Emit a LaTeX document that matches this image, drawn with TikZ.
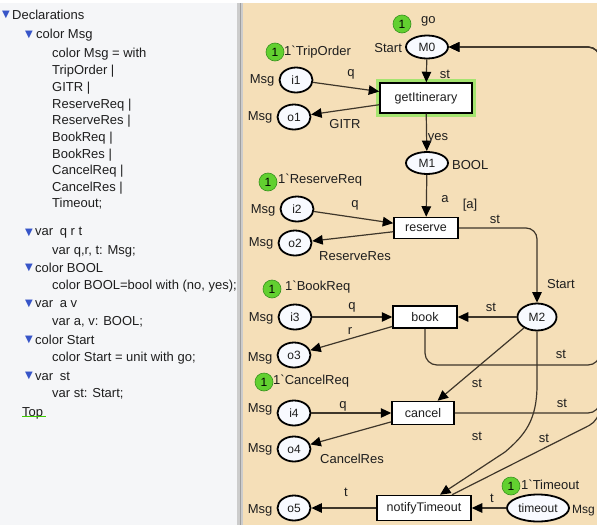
\documentclass[tikz,border=0pt]{standalone}
\usepackage{fontspec}
\setmainfont{Liberation Sans}[Ligatures=TeXOff]
\newfontfamily\symf{DejaVu Sans}
\usetikzlibrary{shapes.geometric,arrows.meta,calc}
\definecolor{beige}{RGB}{245,223,184}
\definecolor{panel}{RGB}{245,246,248}
\definecolor{arcc}{RGB}{62,54,42}
\definecolor{tokg}{RGB}{98,208,48}
\definecolor{tokd}{RGB}{55,145,30}
\definecolor{triblue}{RGB}{55,85,200}
\definecolor{txt}{RGB}{30,30,30}
\definecolor{glowc}{RGB}{165,228,112}
\definecolor{placefill}{RGB}{248,250,255}
\tikzset{
  place/.style={ellipse, draw=black, line width=1.8pt, fill=placefill, inner sep=0pt,
    minimum width=33pt, minimum height=25pt, text=txt, font=\fontsize{12}{13}\selectfont},
  trans/.style={rectangle, draw=black, line width=1.5pt, fill=white, inner sep=0pt,
    text=txt, font=\fontsize{12.5}{13}\selectfont},
  arc/.style={draw=arcc, line width=1.2pt, -{Triangle[length=10.5pt,width=9.5pt,color=black]}},
  lbl/.style={inner sep=0pt, text=txt, font=\fontsize{13}{14}\selectfont},
  token/.style={circle, fill=tokg, draw=tokd, line width=0.6pt, minimum size=18pt,
    inner sep=0pt, text=black, font=\fontsize{12}{13}\selectfont},
  decl/.style={anchor=west, inner sep=0pt, text=txt, font=\fontsize{13}{14}\selectfont},
  tri/.style={anchor=west, inner sep=0pt, text=triblue, font=\symf\fontsize{10}{11}\selectfont},
}
\begin{document}
\begin{tikzpicture}[x=1pt,y=-1pt]
\useasboundingbox (0,0) rectangle (597,525);
% backgrounds
\fill[panel] (0,0) rectangle (240,525);
\fill[beige] (243,0) rectangle (597,525);
\fill[white] (0,0) rectangle (597,3);
\fill[gray!40] (237,3) rectangle (243,525);
\draw[gray!75, line width=1.3pt] (240.5,3) -- (240.5,525);

% ---------- declarations panel ----------
\node[tri] (t0) at (2,15) {▼};
\node[decl] (d0) at (12,15) {Declarations};
\node[tri] (t1) at (25,35) {▼};
\node[decl] (d1) at (36,35) {color Msg};
\node[decl] (d2) at (52,54) {color Msg = with};
\node[decl] (d3) at (52,71) {TripOrder |};
\node[decl] (d4) at (52,88) {GITR |};
\node[decl] (d5) at (52,105) {ReserveReq |};
\node[decl] (d6) at (52,121) {ReserveRes |};
\node[decl] (d7) at (52,138) {BookReq |};
\node[decl] (d8) at (52,155) {BookRes |};
\node[decl] (d9) at (52,171) {CancelReq |};
\node[decl] (d10) at (52,188) {CancelRes |};
\node[decl] (d11) at (52,204) {Timeout;};
\node[tri] (t2) at (25,233) {▼};
\node[decl] (d12) at (35,233) {var\enspace q r t};
\node[decl] (d13) at (52,251) {var q,r, t: Msg;};
\node[tri] (t3) at (25,268) {▼};
\node[decl] (d14) at (35,268) {color BOOL};
\node[decl] (d15) at (52,286) {color BOOL=bool with (no, yes);};
\node[tri] (t4) at (25,304) {▼};
\node[decl] (d16) at (35,304) {var\enspace a v};
\node[decl] (d17) at (52,322) {var a, v: BOOL;};
\node[tri] (t5) at (25,340) {▼};
\node[decl] (d18) at (35,340) {color Start};
\node[decl] (d19) at (52,358) {color Start = unit with go;};
\node[tri] (t6) at (25,376) {▼};
\node[decl] (d20) at (35,376) {var\enspace st};
\node[decl] (d21) at (52,394) {var st: Start;};
\node[decl] (top) at (22,413) {Top};
\draw[green!60!lime!80!black, line width=1.4pt] (top.south west) ++(0,-2.5) -- ++(24,0);

% ---------- net: nodes ----------
\node[place, minimum width=42pt, minimum height=23pt] (M0) at (427,47) {M0};
\node[draw=glowc, line width=5pt, minimum width=95pt, minimum height=33pt, inner sep=0pt] (giglow) at (426,98) {};
\node[trans, minimum width=92pt, minimum height=30pt] (gi) at (426,98) {getItinerary};
\node[place] (i1) at (296,80) {i1};
\node[place] (o1) at (294,117) {o1};
\node[place, minimum width=42pt, minimum height=22pt] (M1) at (427,163) {M1};
\node[trans, minimum width=64pt, minimum height=21pt] (rs) at (426,228) {reserve};
\node[place] (i2) at (297,209) {i2};
\node[place] (o2) at (295,243) {o2};
\node[place, minimum width=39pt, minimum height=27pt] (M2) at (537,317) {M2};
\node[trans, minimum width=64pt, minimum height=22pt] (bk) at (425,317) {book};
\node[place] (i3) at (295,317) {i3};
\node[place] (o3) at (294,355) {o3};
\node[trans, minimum width=62pt, minimum height=23pt] (cn) at (423,413) {cancel};
\node[place] (i4) at (294,413) {i4};
\node[place] (o4) at (294,449) {o4};
\node[trans, minimum width=94pt, minimum height=25pt] (nt) at (424,508) {notifyTimeout};
\node[place] (o5) at (294,508) {o5};
\node[place, minimum width=62pt, minimum height=27pt] (to) at (538,508) {timeout};

% helper coordinates for the loop back to M0 (right edge)
\coordinate (rt) at (600,47);
\coordinate (ybk) at (0,365);
\coordinate (m2d) at (537,385);
\coordinate (m2c) at (505,452);
\coordinate (ntc) at (600,420);

% ---------- net: arcs ----------
\begin{scope}
\clip (243,3) rectangle (597,525);
\draw[arc] (M0) -- (gi);
\draw[arc] (i1) -- (gi);
\draw[arc] (gi) -- (o1);
\draw[arc] (gi) -- (M1);
\draw[arc] (M1) -- (rs);
\draw[arc] (i2) -- (rs);
\draw[arc] (rs) -- (o2);
\draw[arc, rounded corners=11pt] (rs.east) -| (M2.north);
\draw[arc] (M2) -- (bk);
\draw[arc] (i3) -- (bk);
\draw[arc] (bk) -- (o3);
\draw[arc, rounded corners=12pt] (bk.south) -- (bk.south |- ybk) -- (ybk -| rt) -- (rt) -- (M0.east);
\draw[arc] (M2) -- (cn);
\draw[arc] (i4) -- (cn);
\draw[arc] (cn) -- (o4);
\draw[arc, rounded corners=12pt] (cn.east) -- (cn.east -| rt) -- (rt) -- (M0.east);
\draw[arc] (M2.south) -- (m2d) .. controls (537,420) and (525,435) .. (m2c) -- ($(nt.north)+(16,0)$);
\draw[arc, rounded corners=12pt] ($(nt.north)+(28,0)$) -- (ntc) -- (rt) -- (M0.east);
\draw[arc] (to) -- (nt);
\draw[arc] (nt) -- (o5);
\end{scope}

% ---------- tokens ----------
\node[token] (k0) at (402,24) {1};
\node[lbl, anchor=west] (k0t) at (421,21) {go};
\node[token] (k1) at (275,52) {1};
\node[lbl, anchor=west] (k1t) at (284,52) {1`TripOrder};
\node[token] (k2) at (268,182) {1};
\node[lbl, anchor=west] (k2t) at (278,180) {1`ReserveReq};
\node[token] (k3) at (272,289) {1};
\node[lbl, anchor=west] (k3t) at (285,287) {1`BookReq};
\node[token] (k4) at (264,382) {1};
\node[lbl, anchor=west] (k4t) at (273,381) {1`CancelReq};
\node[token] (k5) at (511,486) {1};
\node[lbl, anchor=west] (k5t) at (521,485) {1`Timeout};

% ---------- colour sets ----------
\node[lbl, anchor=east] (csM0) at ($(M0.west)+(-3,1)$) {Start};
\node[lbl, anchor=west] (csM1) at ($(M1.east)+(3,2)$) {BOOL};
\node[lbl, anchor=west] (csM2) at (547,284) {Start};
\node[lbl, anchor=west, font=\fontsize{12}{13}\selectfont] (csto) at ($(to.east)+(2,3)$) {Msg};
\node[lbl, anchor=east] (csi1) at ($(i1.west)+(-4,0)$) {Msg};
\node[lbl, anchor=east] (cso1) at ($(o1.west)+(-4,0)$) {Msg};
\node[lbl, anchor=east] (csi2) at ($(i2.west)+(-4,1)$) {Msg};
\node[lbl, anchor=east] (cso2) at ($(o2.west)+(-4,0)$) {Msg};
\node[lbl, anchor=east] (csi3) at ($(i3.west)+(-4,1)$) {Msg};
\node[lbl, anchor=east] (cso3) at ($(o3.west)+(-4,3)$) {Msg};
\node[lbl, anchor=east] (csi4) at ($(i4.west)+(-4,-4)$) {Msg};
\node[lbl, anchor=east] (cso4) at ($(o4.west)+(-4,0)$) {Msg};
\node[lbl, anchor=east] (cso5) at ($(o5.west)+(-4,2)$) {Msg};

% ---------- arc inscriptions ----------
\node[lbl] (a1) at (351,74) {q};
\node[lbl] (a2) at (445,74) {st};
\node[lbl] (a3) at (345,124) {GITR};
\node[lbl] (a4) at (438,138) {yes};
\node[lbl] (a5) at (445,199) {a};
\node[lbl] (g1) at (470,205) {[a]};
\node[lbl] (a6) at (355,205) {q};
\node[lbl] (a7) at (495,219) {st};
\node[lbl] (a8) at (355,256) {ReserveRes};
\node[lbl] (a9) at (352,307) {q};
\node[lbl] (a10) at (491,307) {st};
\node[lbl] (a11) at (350,331) {r};
\node[lbl] (a12) at (561,354) {st};
\node[lbl] (a13) at (477,383) {st};
\node[lbl] (a14) at (343,406) {q};
\node[lbl] (a15) at (562,403) {st};
\node[lbl] (a16) at (477,436) {st};
\node[lbl] (a17) at (544,438) {st};
\node[lbl] (a18) at (352,459) {CancelRes};
\node[lbl] (a19) at (346,492) {t};
\node[lbl] (a20) at (492,498) {t};
\end{tikzpicture}
\end{document}
